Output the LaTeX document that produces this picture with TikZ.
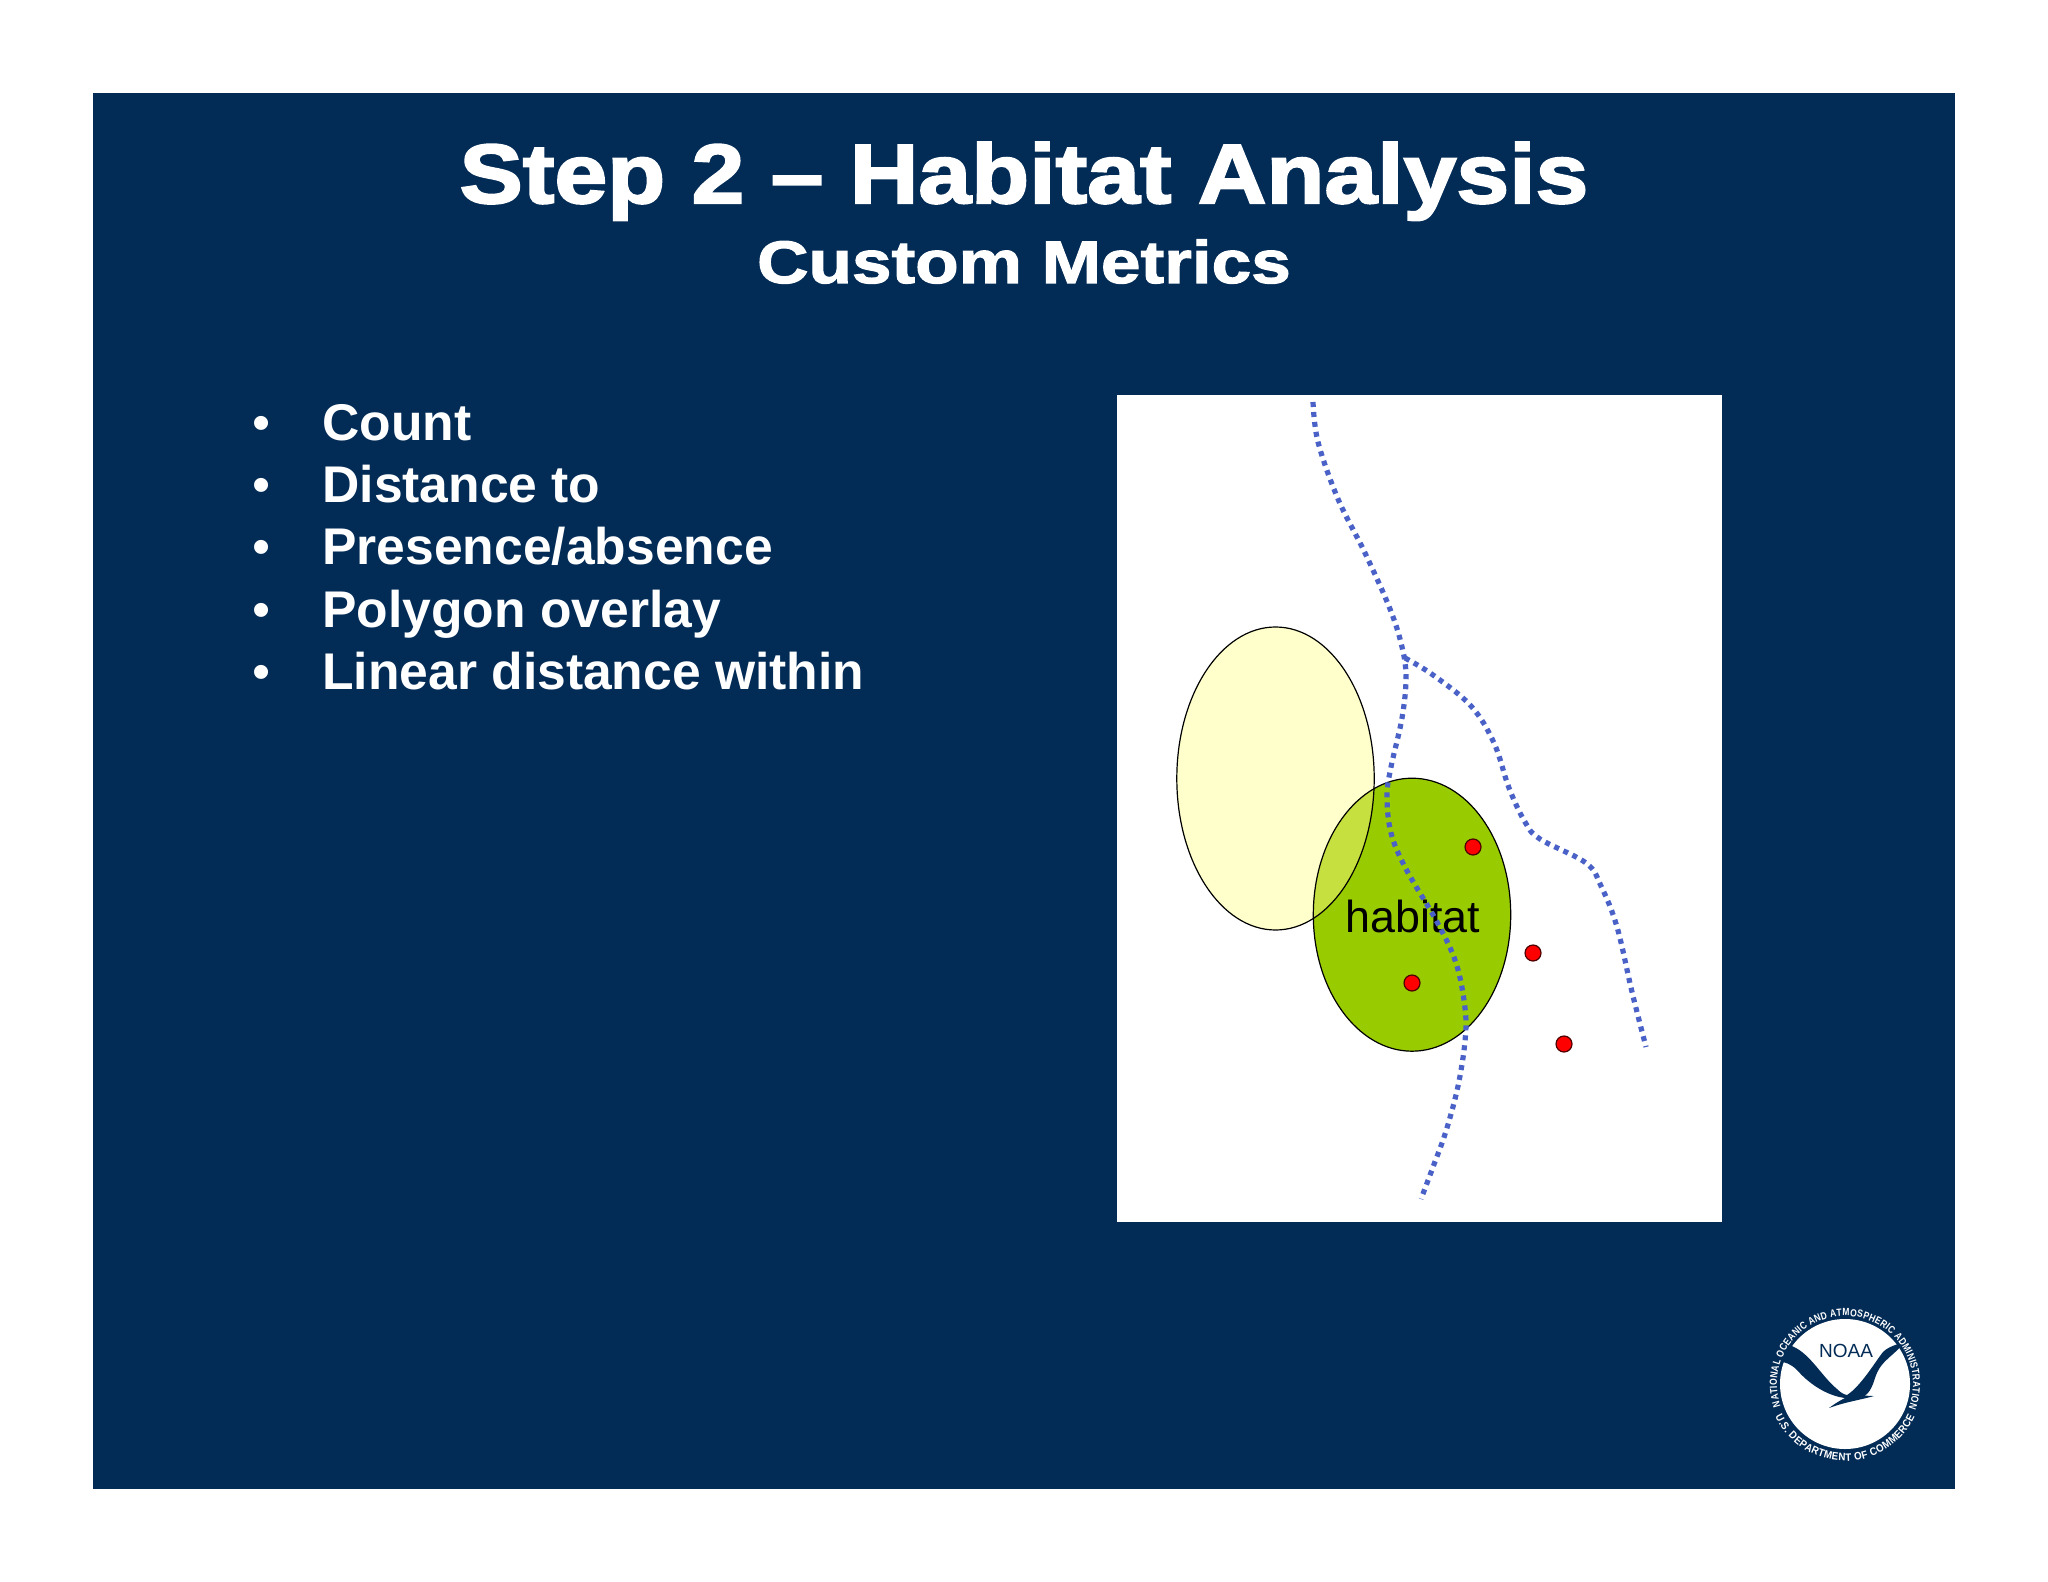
\documentclass[tikz,border=0pt]{standalone}
\usepackage{fontspec}
\setmainfont{Liberation Sans}
\usepackage{tikz}
\usetikzlibrary{decorations.text}
\pgfdeclarelayer{bg}
\pgfsetlayers{bg,main}
\definecolor{panelblue}{HTML}{022B56}
\definecolor{hazeyellow}{HTML}{FFFFCC}
\definecolor{habgreen}{HTML}{99CC00}
\definecolor{mixgreen}{HTML}{C6E040}
\definecolor{riverblue}{HTML}{4A62C8}
\newcommand{\sealfont}{\fontsize{5.2}{6}\bfseries\addfontfeature{FakeStretch=0.82}}
\newcommand{\sealbase}{\fontsize{5.4}{6}\bfseries\addfontfeature{FakeStretch=0.9}}
\tikzset{
        titletext/.style={text=white, inner sep=0pt, anchor=base, font=\fontsize{42}{50}\bfseries\addfontfeature{FakeBold=2.5,FakeStretch=1.13}},
        subtext/.style={text=white, inner sep=0pt, anchor=base, font=\fontsize{30}{34}\bfseries\addfontfeature{FakeBold=2,FakeStretch=1.186}},
        itemtext/.style={text=white, inner sep=0pt, anchor=base west, font=\fontsize{25.8}{30}\bfseries},
        dottext/.style={text=white, inner sep=0pt, anchor=base west, font=\fontsize{25.8}{30}\selectfont},
        zone/.style={draw=black, line width=0.6pt},
        river/.style={draw=riverblue, line width=2.6pt, dash pattern=on 2.5pt off 2.5pt},
        site/.style={circle, draw=black!70!red, fill=red, line width=0.6pt, inner sep=0pt, minimum size=8pt}
}
\begin{document}
\begin{tikzpicture}[x=0.5pt, y=-0.5pt]
        \useasboundingbox (0,0) rectangle (2048,1582);
        \begin{pgfonlayer}{bg}
                \fill[panelblue] (93,93) rectangle (1955,1489);
                \fill[white] (1117,395) rectangle (1722,1222);
                \fill[hazeyellow] (1275.5,778.5) ellipse [x radius=98.7, y radius=151.5];
                \fill[habgreen] (1412,914.7) ellipse [x radius=98.7, y radius=136.5];
                \begin{scope}
                        \clip (1275.5,778.5) ellipse [x radius=98.7, y radius=151.5];
                        \fill[mixgreen] (1412,914.7) ellipse [x radius=98.7, y radius=136.5];
                \end{scope}
                \draw[zone] (1275.5,778.5) ellipse [x radius=98.7, y radius=151.5];
                \draw[zone] (1412,914.7) ellipse [x radius=98.7, y radius=136.5];
        \end{pgfonlayer}
        \node (title) [titletext] at (1024,203) {Step 2 – Habitat Analysis};
        \node (sub) [subtext] at (1024,283) {Custom Metrics};
        \node (b0) [dottext] at (252,441) {•};
        \node (b1) [dottext] at (252,503) {•};
        \node (b2) [dottext] at (252,565) {•};
        \node (b3) [dottext] at (252,627) {•};
        \node (b4) [dottext] at (252,689) {•};
        \node (i0) [itemtext] at (322,441) {Count};
        \node (i1) [itemtext] at (322,503) {Distance to};
        \node (i2) [itemtext] at (322,565) {Presence/absence};
        \node (i3) [itemtext] at (322,627) {Polygon overlay};
        \node (i4) [itemtext] at (322,689) {Linear distance within};
        \node (hab) [inner sep=0pt, anchor=base, font=\fontsize{22.4}{26}\selectfont] at (1413,932) {habitat};
        \draw[river] plot[smooth, tension=0.6] coordinates {(1313,402) (1318,442) (1338,499) (1365,553) (1390,609) (1402,647) (1406,678) (1402,718) (1391,767) (1387,796) (1391,833) (1406,869) (1437,922) (1456,963) (1465,1008) (1465,1041) (1458,1086) (1446,1131) (1433,1167) (1421,1199)};
        \draw[river] plot[smooth, tension=0.6] coordinates {(1405,658) (1433,675) (1471,706) (1494,743) (1509,788) (1525,822) (1540,839) (1586,863) (1601,886) (1617,927) (1632,992) (1646,1047)};
        \node (s0) [site] at (1473,847) {};
        \node (s1) [site] at (1533,953) {};
        \node (s2) [site] at (1412,983) {};
        \node (s3) [site] at (1564,1044) {};
        \begin{scope}[shift={(1845,1384)}, x=0.5pt, y=0.5pt]
                \fill[white] (0,0) circle (65);
                \fill[panelblue] (-56,39) .. controls (-36,33) and (-24,8) .. (-8,-5) .. controls (-2,-11) and (2,-11) .. (2,-11) .. controls (16,-2) and (30,22) .. (38,32) .. controls (44,38) and (52,39) .. (60,43) .. controls (50,28) and (36,25) .. (30,6) .. controls (26,-8) and (20,-14) .. (16,-11) .. controls (22,-12) and (28,-12) .. (29,-12) .. controls (15,-16) and (0,-18) .. (-16,-24) .. controls (-8,-18) and (-2,-15) .. (0,-14) .. controls (-16,-12) and (-34,-2) .. (-48,14) .. controls (-54,20) and (-60,22) .. (-64,22) -- cycle;
                \node (noaa) [inner sep=0pt, text=panelblue, font=\fontsize{9.5}{12}\selectfont] at (1,33) {NOAA};
                \path[decorate, decoration={text along path, text align=fit to path, text={|\sealfont\color{white}|NATIONAL OCEANIC AND ATMOSPHERIC ADMINISTRATION}}] (199:68) arc [start angle=199, end angle=-21, radius=68];
                \path[decorate, decoration={text along path, text align=fit to path, text={|\sealbase\color{white}|U.S. DEPARTMENT OF COMMERCE}}] (205:77) arc [start angle=205, end angle=335, radius=77];
        \end{scope}
\end{tikzpicture}
\end{document}
